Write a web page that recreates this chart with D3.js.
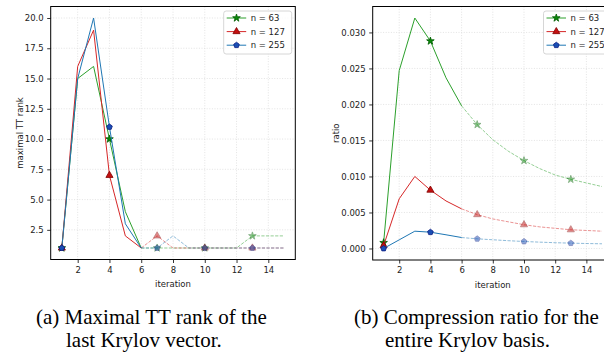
<!DOCTYPE html>
<html>
<head>
<meta charset="utf-8">
<script src="https://cdn.jsdelivr.net/npm/d3@7"></script>
<style>
  body { margin: 0; background: #fff; }
  svg { display: block; }
</style>
</head>
<body>
<svg id="fig" width="604" height="356"></svg>
<script>
// ---- data ----
const iterations = d3.range(1, 16);
const seriesNames = ["n = 63", "n = 127", "n = 255"];

// maximal TT rank of the last Krylov vector
const rank63  = [1, 15, 16, 10, 4, 1, 1, 1, 1, 1, 1, 1, 2, 2, 2];
const rank127 = [1, 16, 19, 7, 2, 1, 2, 1, 1, 1, 1, 1, 1, 1, 1];
const rank255 = [1, 15, 20, 11, 3, 1, 1, 2, 1, 1, 1, 1, 1, 1, 1];

// compression ratio of the whole Krylov basis
const ratio63  = [0.0008, 0.0247, 0.0320, 0.0288, 0.0237, 0.0198, 0.0172, 0.0151, 0.0135, 0.0122, 0.0111, 0.0102, 0.0096, 0.0091, 0.0086];
const ratio127 = [0.0004, 0.0069, 0.0100, 0.0081, 0.0066, 0.0055, 0.0047, 0.0041, 0.0037, 0.0033, 0.0030, 0.0028, 0.0026, 0.0025, 0.0024];
const ratio255 = [0.0000, 0.0012, 0.0024, 0.00226, 0.0019, 0.00152, 0.00134, 0.00121, 0.00108, 0.00097, 0.00088, 0.0008, 0.00074, 0.00069, 0.00065];

const xTicks = [2, 4, 6, 8, 10, 12, 14];
const rankTicks = [2.5, 5, 7.5, 10, 12.5, 15, 17.5, 20];
const ratioTicks = [0, 0.005, 0.01, 0.015, 0.02, 0.025, 0.03];

const captionA = ["(a) Maximal TT rank of the", "last Krylov vector."];
const captionB = ["(b) Compression ratio for the", "entire Krylov basis."];

// ---- styling ----
const symbolPentagon = {
  draw(context, size) {
    const r = Math.sqrt(size / (2.5 * Math.sin(2 * Math.PI / 5)));
    for (let i = 0; i < 5; i++) {
      const a = -Math.PI / 2 + i * 2 * Math.PI / 5;
      const x = r * Math.cos(a), y = r * Math.sin(a);
      if (i === 0) context.moveTo(x, y); else context.lineTo(x, y);
    }
    context.closePath();
  }
};

const styles = [
  { line: "#2ca02c", face: "#0a8a0a", edge: "#005a00", symbol: d3.symbolStar, size: 18 },
  { line: "#d62728", face: "#c41010", edge: "#800000", symbol: d3.symbolTriangle, size: 22 },
  { line: "#1f77b4", face: "#1a4fb5", edge: "#0a1a80", symbol: symbolPentagon, size: 21 }
];

const FONT = "'DejaVu Sans', sans-serif";
const FS = 8.5;
const solidEnd = 6;            // iterations 1..6 drawn solid, 6..15 dashed and faded
const markIdx = [0, 3, 6, 9, 12];

const svg = d3.select("#fig");
svg.append("rect").attr("width", 604).attr("height", 356).attr("fill", "#fff");

function panel(opts) {
  const { left, right, top, bottom, xDomain, yDomain, yTicks, yFmt, series, yLabel, yLabelX, legendX } = opts;
  const x = d3.scaleLinear().domain(xDomain).range([left, right]);
  const y = d3.scaleLinear().domain(yDomain).range([bottom, top]);

  const g = svg.append("g");

  // grid
  const grid = g.append("g").attr("stroke", "#dcdcdc").attr("stroke-width", 0.8).attr("stroke-dasharray", "1,1.6");
  grid.selectAll("line.gx").data(xTicks).join("line")
    .attr("x1", d => x(d)).attr("x2", d => x(d)).attr("y1", top).attr("y2", bottom);
  grid.selectAll("line.gy").data(yTicks).join("line")
    .attr("x1", left).attr("x2", right).attr("y1", d => y(d)).attr("y2", d => y(d));

  // axes
  const xAxis = d3.axisBottom(x).tickValues(xTicks).tickSize(3.5).tickPadding(3.5).tickFormat(d3.format("d"));
  const yAxis = d3.axisLeft(y).tickValues(yTicks).tickSize(3.5).tickPadding(3.5).tickFormat(d3.format(yFmt));
  const gx = g.append("g").attr("transform", `translate(0,${bottom})`).call(xAxis);
  const gy = g.append("g").attr("transform", `translate(${left},0)`).call(yAxis);
  [gx, gy].forEach(a => {
    a.select(".domain").remove();
    a.selectAll(".tick line").attr("stroke", "#000").attr("stroke-width", 0.8);
    a.selectAll(".tick text").attr("fill", "#222").style("font-family", FONT).style("font-size", FS + "px");
  });

  // lines
  const line = d3.line().x(d => x(d[0])).y(d => y(d[1]));
  series.forEach((vals, si) => {
    const st = styles[si];
    const pts = iterations.map((it, i) => [it, vals[i]]);
    const solid = pts.filter(p => p[0] <= solidEnd);
    const dashed = pts.filter(p => p[0] >= solidEnd);
    g.append("path").attr("d", line(solid)).attr("fill", "none")
      .attr("stroke", st.line).attr("stroke-width", 1);
    g.append("path").attr("d", line(dashed)).attr("fill", "none")
      .attr("stroke", st.line).attr("stroke-width", 1).attr("stroke-opacity", 0.5)
      .attr("stroke-dasharray", "3.2,1.4");
    const sym = d3.symbol().type(st.symbol).size(st.size);
    markIdx.forEach(i => {
      const p = pts[i];
      g.append("path").attr("d", sym())
        .attr("transform", `translate(${x(p[0])},${y(p[1])})`)
        .attr("fill", st.face).attr("stroke", st.edge).attr("stroke-width", 0.8)
        .attr("opacity", p[0] > solidEnd ? 0.5 : 1);
    });
  });

  // frame
  g.append("rect").attr("x", left).attr("y", top).attr("width", right - left).attr("height", bottom - top)
    .attr("fill", "none").attr("stroke", "#000").attr("stroke-width", 1);

  // axis labels
  g.append("text").attr("x", (left + right) / 2).attr("y", bottom + 27.5)
    .attr("text-anchor", "middle").style("font-family", FONT).style("font-size", FS + "px").attr("fill", "#222")
    .text("iteration");
  g.append("text").attr("transform", `translate(${yLabelX},${(top + bottom) / 2}) rotate(-90)`)
    .attr("text-anchor", "middle").style("font-family", FONT).style("font-size", FS + "px").attr("fill", "#222")
    .text(yLabel);

  // legend
  const lg = g.append("g").attr("transform", `translate(${legendX},${top + 4.5})`);
  lg.append("rect").attr("width", 68).attr("height", 43).attr("rx", 2.5)
    .attr("fill", "#fff").attr("fill-opacity", 0.8).attr("stroke", "#cccccc").attr("stroke-width", 0.8);
  seriesNames.forEach((name, si) => {
    const st = styles[si];
    const cy = 7 + si * 13.6;
    lg.append("line").attr("x1", 3).attr("x2", 22.5).attr("y1", cy).attr("y2", cy)
      .attr("stroke", st.line).attr("stroke-width", 1);
    lg.append("path").attr("d", d3.symbol().type(st.symbol).size(st.size)())
      .attr("transform", `translate(12.8,${cy})`)
      .attr("fill", st.face).attr("stroke", st.edge).attr("stroke-width", 0.8);
    lg.append("text").attr("x", 27).attr("y", cy).attr("dy", "0.35em")
      .style("font-family", FONT).style("font-size", FS + "px").attr("fill", "#222").text(name);
  });
  return g;
}

panel({
  left: 50.7, right: 295.3, top: 6.5, bottom: 259.5,
  xDomain: [0.3, 15.7], yDomain: [0.05, 20.95],
  yTicks: rankTicks, yFmt: ".1f",
  series: [rank63, rank127, rank255],
  yLabel: "maximal TT rank", yLabelX: 23,
  legendX: 223.7
});

panel({
  left: 372.7, right: 612.9, top: 6.5, bottom: 260,
  xDomain: [0.3, 15.7], yDomain: [-0.0016, 0.0336],
  yTicks: ratioTicks, yFmt: ".3f",
  series: [ratio63, ratio127, ratio255],
  yLabel: "ratio", yLabelX: 338.5,
  legendX: 543.5
});

// captions
function caption(lines, x1, x2) {
  const t = svg.append("g").style("font-family", "'Liberation Serif', 'Times New Roman', serif")
    .style("font-size", "21px").attr("fill", "#000");
  t.append("text").attr("x", x1).attr("y", 324).text(lines[0]);
  t.append("text").attr("x", x2).attr("y", 347).text(lines[1]);
}
caption(captionA, 36, 66);
caption(captionB, 354, 385);
</script>
</body>
</html>
